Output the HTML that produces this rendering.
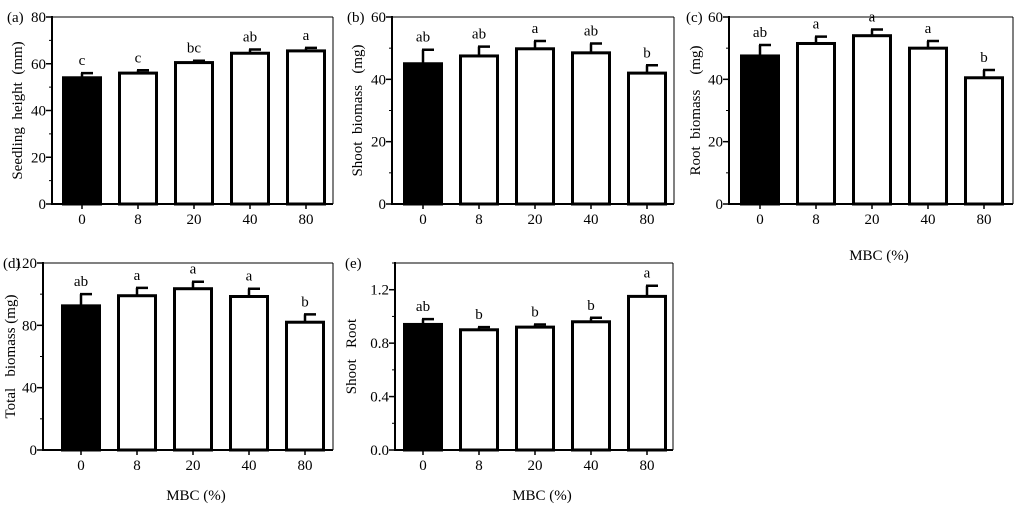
<!DOCTYPE html>
<html><head><meta charset="utf-8"><style>
html,body{margin:0;padding:0;background:#fff;}
svg text{font-family:"Liberation Serif","Times New Roman",serif;fill:#000;white-space:pre;}
</style></head><body>
<svg id="fig" width="1024" height="513" viewBox="0 0 1024 513"></svg>
<script>
const categories = ["0","8","20","40","80"];
const aValues = [54, 56, 60.5, 64.5, 65.5];
const aErrors = [2, 1.2, 0.8, 1.6, 1.3];
const aLetters = ["c","c","bc","ab","a"];
const bValues = [45, 47.5, 49.8, 48.5, 42];
const bErrors = [4.5, 3, 2.5, 3, 2.5];
const bLetters = ["ab","ab","a","ab","b"];
const cValues = [47.5, 51.5, 54, 50, 40.5];
const cErrors = [3.5, 2.2, 2, 2.3, 2.5];
const cLetters = ["ab","a","a","a","b"];
const dValues = [92.5, 99, 103.5, 98.5, 82];
const dErrors = [7.5, 5, 4.5, 5, 5];
const dLetters = ["ab","a","a","a","b"];
const eValues = [0.94, 0.90, 0.92, 0.96, 1.15];
const eErrors = [0.04, 0.02, 0.02, 0.03, 0.08];
const eLetters = ["ab","b","b","b","a"];
const aTicks = ["0","20","40","60","80"];
const bTicks = ["0","20","40","60"];
const dTicks = ["0","40","80","120"];
const eTicks = ["0.0","0.4","0.8","1.2"];

const NS="http://www.w3.org/2000/svg";
const svg=document.getElementById('fig');
const FF='"Liberation Serif", serif';
function mk(tag,attrs,parent,text){const e=document.createElementNS(NS,tag);for(const k in attrs)e.setAttribute(k,attrs[k]);if(tag==='text')e.setAttribute('font-family',FF);if(text!==undefined)e.textContent=text;(parent||svg).appendChild(e);return e;}

function panel(cfg){
  const g=mk('g',{});
  
  
  const {x0,x1,y0,y1,max,majorStep,minorStep}=cfg;
  const y=v=>y1-(v/max)*(y1-y0);
  const cx=i=>cfg.c0+i*56;
  const top=mk('line',{x1:x0,y1:y0,x2:x1,y2:y0,stroke:'#000','stroke-width':1},g);
  
  const rt=mk('line',{x1:x1,y1:y0,x2:x1,y2:y1,stroke:'#000','stroke-width':1},g);
  
  cfg.values.forEach((v,i)=>{
    const w=37,bx=cx(i)-w/2;
    const r=mk('rect',{x:bx,y:y(v),width:w,height:y1-y(v),fill:i===0?'#000':'#fff',stroke:'#000','stroke-width':3},g);
    
    
    const et=y(v+cfg.errors[i]);
    const el=mk('path',{d:`M${cx(i)} ${y(v)}V${et}M${cx(i)-1} ${et}H${cx(i)+11}`,stroke:'#000','stroke-width':2.5,fill:'none'},g);
    
    
    const t=mk('text',{x:cx(i),y:et-8,'text-anchor':'middle','font-size':15},g,cfg.letters[i]);
    
    
    const xl=mk('text',{x:cx(i),y:y1+20,'text-anchor':'middle','font-size':15},g,categories[i]);
    
    
  });
  const ax=mk('path',{d:`M${x0} ${y0-1}V${y1}H${x1}`,stroke:'#000','stroke-width':2,fill:'none'},g);
  
  for(let v=0;v<=max+1e-9;v+=minorStep){
    mk('line',{x1:x0-3,y1:y(v),x2:x0,y2:y(v),stroke:'#000','stroke-width':1},g);
  }
  cfg.ticks.forEach((lab,i)=>{
    const v=i*majorStep;
    mk('line',{x1:x0-6,y1:y(v),x2:x0,y2:y(v),stroke:'#000','stroke-width':1.5},g);
    const t=mk('text',{x:x0-6,y:y(v)+5,'text-anchor':'end','font-size':15},g,lab);
    
    
  });
  for(let i=0;i<5;i++) mk('line',{x1:cx(i),y1:y1,x2:cx(i),y2:y1+5,stroke:'#000','stroke-width':1.5},g);
  const pl=mk('text',{x:cfg.lx,y:y0+5,'font-size':15},g,cfg.label);
  
  const mid=(y0+y1)/2;
  const yt=mk('text',{x:cfg.tx,y:mid,'text-anchor':'middle','font-size':15,transform:`rotate(-90 ${cfg.tx} ${mid})`},g,cfg.title);
  
  if(cfg.xt){
    const xt=mk('text',{x:(x0+x1)/2+8,y:cfg.xt,'text-anchor':'middle','font-size':15},g,'MBC (%)');
    
  }
}
panel({id:'a',label:'(a)',lx:7,x0:52,x1:333,y0:17,y1:204,max:80,majorStep:20,minorStep:10,c0:82,values:aValues,errors:aErrors,letters:aLetters,ticks:aTicks,title:'Seedling  height  (mm)',tx:22});
panel({id:'b',label:'(b)',lx:347,x0:392,x1:674,y0:17,y1:204,max:60,majorStep:20,minorStep:10,c0:423,values:bValues,errors:bErrors,letters:bLetters,ticks:bTicks,title:'Shoot  biomass   (mg)',tx:362});
panel({id:'c',label:'(c)',lx:686,x0:729,x1:1013,y0:17,y1:204,max:60,majorStep:20,minorStep:10,c0:760,values:cValues,errors:cErrors,letters:cLetters,ticks:bTicks,title:'Root  biomass    (mg)',tx:700,xt:260});
panel({id:'d',label:'(d)',lx:3,x0:43,x1:333,y0:263,y1:450,max:120,majorStep:40,minorStep:20,c0:81,values:dValues,errors:dErrors,letters:dLetters,ticks:dTicks,title:'Total   biomass (mg)',tx:15,xt:500});
panel({id:'e',label:'(e)',lx:345,x0:395,x1:673,y0:263,y1:450,max:1.4,majorStep:0.4,minorStep:0.2,c0:423,values:eValues,errors:eErrors,letters:eLetters,ticks:eTicks,title:'Shoot   Root',tx:356,xt:500});
</script>
</body></html>
